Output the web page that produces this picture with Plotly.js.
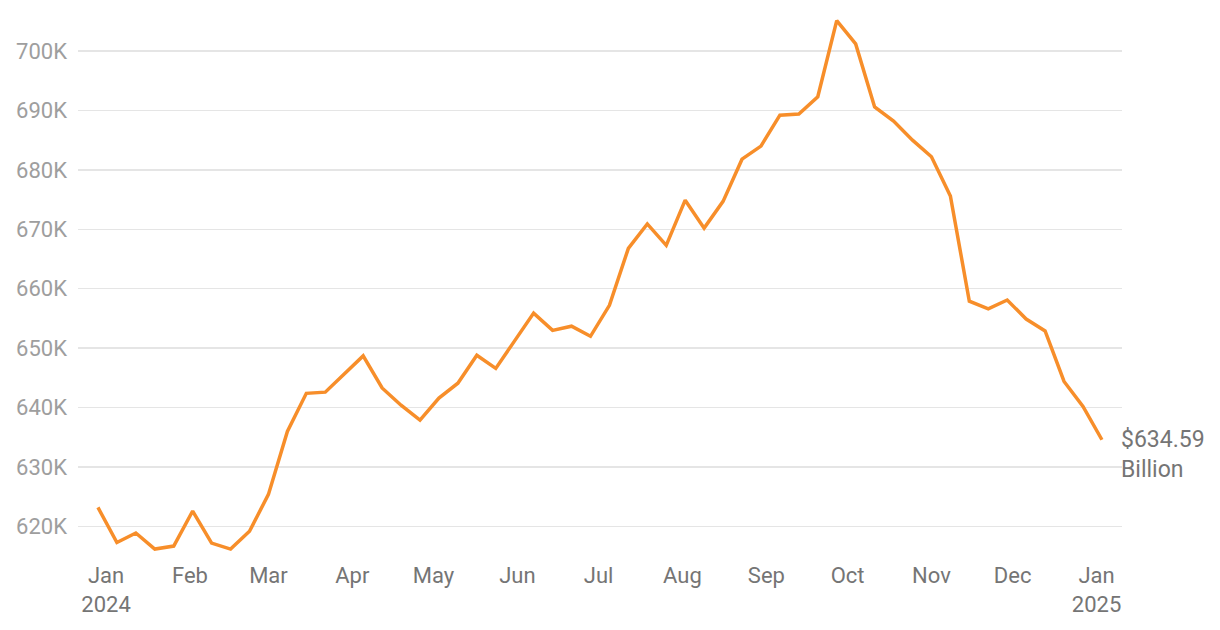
<!DOCTYPE html>
<html>
<head>
<meta charset="utf-8">
<script src="https://cdn.plot.ly/plotly-3.0.1.min.js"></script>
<style>html,body{margin:0;padding:0;background:#fff;}#chart{width:1220px;height:630px;}</style>
</head>
<body>
<div id="chart"></div>
<script>
const dates = ["2023-12-29","2024-01-05","2024-01-12","2024-01-19","2024-01-26","2024-02-02","2024-02-09","2024-02-16","2024-02-23","2024-03-01","2024-03-08","2024-03-15","2024-03-22","2024-03-29","2024-04-05","2024-04-12","2024-04-19","2024-04-26","2024-05-03","2024-05-10","2024-05-17","2024-05-24","2024-05-31","2024-06-07","2024-06-14","2024-06-21","2024-06-28","2024-07-05","2024-07-12","2024-07-19","2024-07-26","2024-08-02","2024-08-09","2024-08-16","2024-08-23","2024-08-30","2024-09-06","2024-09-13","2024-09-20","2024-09-27","2024-10-04","2024-10-11","2024-10-18","2024-10-25","2024-11-01","2024-11-08","2024-11-15","2024-11-22","2024-11-29","2024-12-06","2024-12-13","2024-12-20","2024-12-27","2025-01-03"];
// values in millions of dollars
const values = [623200,617300,618900,616200,616700,622600,617200,616200,619200,625400,636000,642400,642600,645600,648700,643300,640400,637900,641600,644100,648800,646600,651300,655900,653000,653700,652000,657200,666800,670900,667300,674900,670200,674700,681800,684000,689200,689400,692300,705100,701200,690600,688200,685000,682200,675600,657900,656600,658100,654900,652900,644400,640200,634590];
const yTickVals = [620000,630000,640000,650000,660000,670000,680000,690000,700000];
const yTickText = ["620K","630K","640K","650K","660K","670K","680K","690K","700K"];
const xTickVals = ["2024-01-01","2024-02-01","2024-03-01","2024-04-01","2024-05-01","2024-06-01","2024-07-01","2024-08-01","2024-09-01","2024-10-01","2024-11-01","2024-12-01","2025-01-01"];
const xTickText = ["Jan<br>2024","Feb","Mar","Apr","May","Jun","Jul","Aug","Sep","Oct","Nov","Dec","Jan<br>2025"];
const lastLabel = "$634.59<br>Billion";

const trace = {
  x: dates, y: values, type: "scatter", mode: "lines",
  line: {color: "#F78E2A", width: 3.5},
  hoverinfo: "x+y"
};
const layout = {
  width: 1220, height: 630,
  margin: {l: 78, r: 98, t: 10, b: 75},
  paper_bgcolor: "#fff", plot_bgcolor: "#fff",
  font: {family: "Roboto, sans-serif", color: "#757575"},
  showlegend: false,
  xaxis: {
    type: "date",
    range: ["2023-12-21 15:00", "2025-01-10 10:00"],
    tickvals: xTickVals, ticktext: xTickText,
    showgrid: false, zeroline: false, showline: false,
    ticks: "", ticklabelstandoff: 5,
    tickfont: {size: 22, color: "#757575"}
  },
  yaxis: {
    range: [615200, 706900],
    tickvals: yTickVals, ticktext: yTickText,
    showgrid: true, gridcolor: "#e5e5e5", gridwidth: 1.5,
    zeroline: false, showline: false, ticks: "",
    ticklabelstandoff: 10,
    tickfont: {size: 22, color: "#9e9e9e"}
  },
  annotations: [{
    x: dates[dates.length - 1], y: values[values.length - 1],
    xref: "x", yref: "y", text: lastLabel, showarrow: false,
    xanchor: "left", yanchor: "middle", align: "left",
    xshift: 17, yshift: -15,
    font: {size: 23, color: "#757575"}
  }]
};
Plotly.newPlot("chart", [trace], layout, {displayModeBar: false, staticPlot: true});
</script>
</body>
</html>
